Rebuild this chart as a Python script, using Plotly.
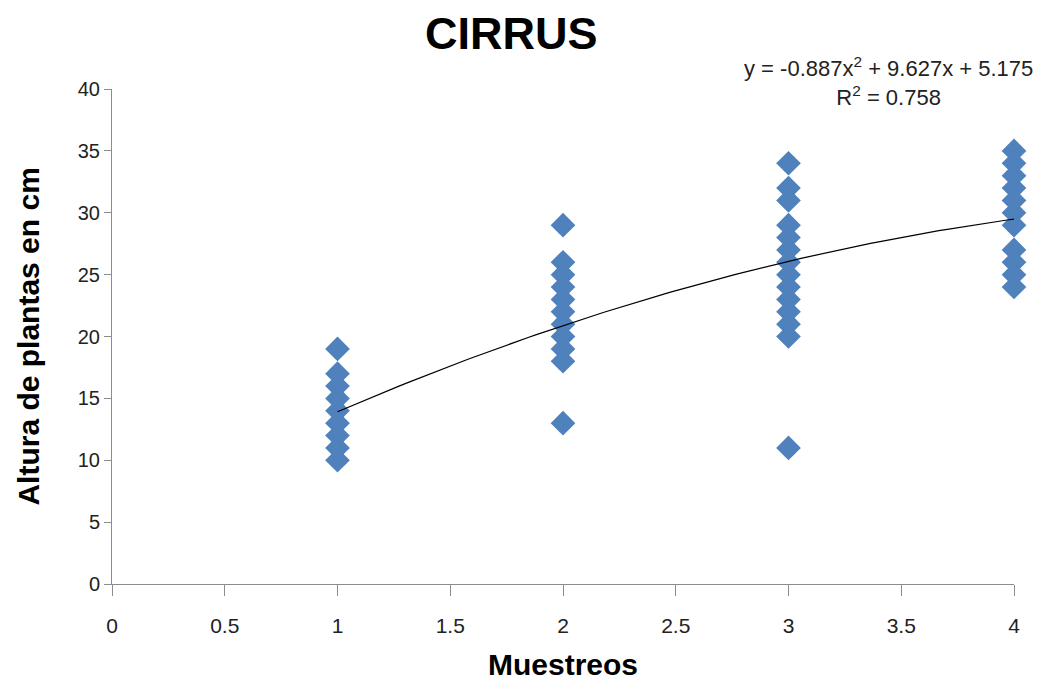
import plotly.graph_objects as go
import numpy as np

# Data
x1 = [1] * 9
y1 = [19, 17, 16, 15, 14, 13, 12, 11, 10]
x2 = [2] * 11
y2 = [29, 26, 25, 24, 23, 22, 21, 20, 19, 18, 13]
x3 = [3] * 14
y3 = [34, 32, 31, 29, 28, 27, 26, 25, 24, 23, 22, 21, 20, 11]
x4 = [4] * 11
y4 = [35, 34, 33, 32, 31, 30, 29, 27, 26, 25, 24]

xs = x1 + x2 + x3 + x4
ys = y1 + y2 + y3 + y4

coef = [-0.887, 9.627, 5.175]
r2 = 0.758
x_ticks = [0, 0.5, 1, 1.5, 2, 2.5, 3, 3.5, 4]
y_ticks = [0, 5, 10, 15, 20, 25, 30, 35, 40]

xf = np.linspace(min(xs), max(xs), 100)
yf = np.polyval(coef, xf)

fig = go.Figure()
fig.add_trace(go.Scatter(x=xs, y=ys, mode="markers",
                         marker=dict(symbol="diamond", size=19, color="#4F81BD",
                                     line=dict(width=0)),
                         showlegend=False, cliponaxis=False))
fig.add_trace(go.Scatter(x=xf, y=yf, mode="lines",
                         line=dict(color="black", width=1.2), showlegend=False))

tickfont = dict(family="Liberation Sans Narrow, Liberation Sans, Arial", size=21, color="#222")
fig.update_layout(
    width=1029, height=673,
    margin=dict(l=104, r=23, t=81, b=97),
    paper_bgcolor="white", plot_bgcolor="white",
    title=dict(text="<b>CIRRUS</b>", x=0.489, xanchor="center", y=0.963, yanchor="middle",
               font=dict(family="Liberation Sans, Arial", size=45, color="black")),
    xaxis=dict(range=[0, 4], tickvals=x_ticks, ticktext=[str(v) for v in x_ticks],
               showgrid=False, zeroline=False, showline=True, linecolor="#8c8c8c", linewidth=1,
               ticks="outside", ticklen=11, tickcolor="#8c8c8c", tickfont=tickfont,
               ticklabelstandoff=12, automargin=False),
    yaxis=dict(range=[0, 40], tickvals=y_ticks, showgrid=False, zeroline=False,
               showline=True, linecolor="#8c8c8c", linewidth=1,
               ticks="outside", ticklen=7, tickcolor="#8c8c8c", automargin=False,
               tickfont=dict(family="Liberation Sans, Arial", size=20, color="#222")),
)

fig.add_annotation(text="<b>Muestreos</b>", xref="paper", yref="paper", x=0.5, y=-0.163,
                   xanchor="center", yanchor="middle", showarrow=False,
                   font=dict(family="Liberation Sans, Arial", size=30, color="black"))
fig.add_annotation(text="<b>Altura de plantas en cm</b>", xref="paper", yref="paper",
                   x=-0.093, y=0.5, xanchor="center", yanchor="middle", showarrow=False,
                   textangle=-90,
                   font=dict(family="Liberation Sans, Arial", size=30, color="black"))

eq = "y = %.3fx<sup>2</sup> + %.3fx + %.3f<br>R<sup>2</sup> = %.3f" % (coef[0], coef[1], coef[2], r2)
fig.add_annotation(text=eq, xref="paper", yref="paper", x=0.861, y=1.016,
                   xanchor="center", yanchor="middle", showarrow=False, align="center",
                   font=dict(family="Liberation Sans, Arial", size=22, color="#222"))

fig.write_html("out.html")
